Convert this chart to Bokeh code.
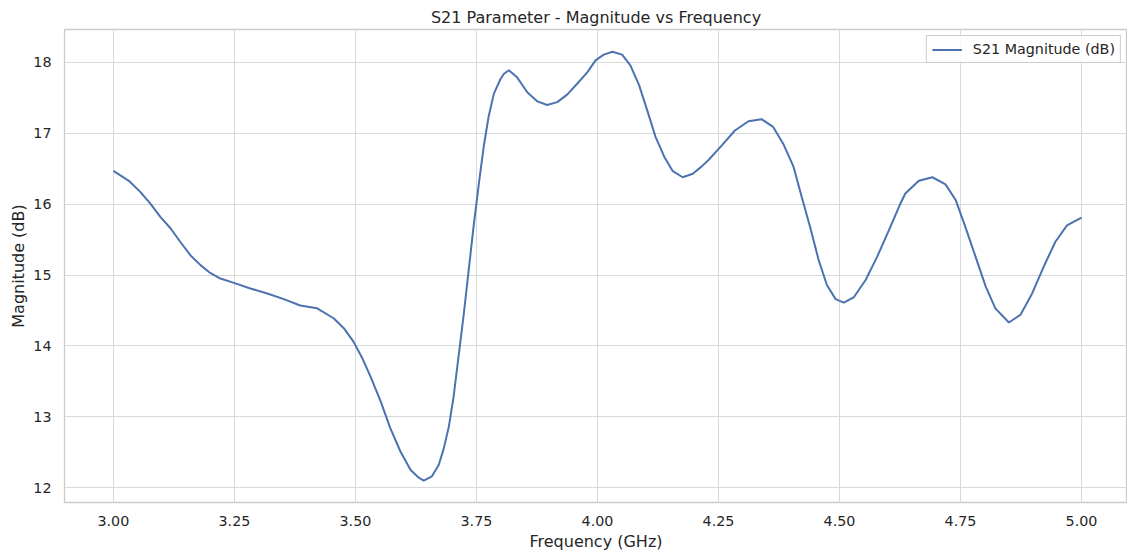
from bokeh.plotting import figure
from bokeh.models import Range1d, FixedTicker, NumeralTickFormatter, Legend, LegendItem
from bokeh.embed import file_html
from bokeh.resources import INLINE

freq_ghz = [3.000, 3.032, 3.056, 3.076, 3.097, 3.118, 3.138, 3.159, 3.180, 3.200,
            3.221, 3.249, 3.283, 3.318, 3.352, 3.386, 3.421, 3.455, 3.476, 3.496,
            3.514, 3.531, 3.552, 3.572, 3.593, 3.614, 3.631, 3.641, 3.658, 3.672,
            3.682, 3.693, 3.703, 3.713, 3.724, 3.734, 3.744, 3.755, 3.765, 3.775,
            3.786, 3.800, 3.807, 3.817, 3.834, 3.855, 3.876, 3.896, 3.917, 3.938,
            3.958, 3.979, 3.996, 4.013, 4.031, 4.051, 4.068, 4.086, 4.103, 4.120,
            4.138, 4.155, 4.176, 4.197, 4.215, 4.229, 4.257, 4.284, 4.312, 4.339,
            4.363, 4.384, 4.405, 4.422, 4.440, 4.457, 4.474, 4.492, 4.509, 4.530,
            4.554, 4.578, 4.602, 4.626, 4.636, 4.664, 4.692, 4.719, 4.740, 4.760,
            4.781, 4.802, 4.822, 4.850, 4.874, 4.898, 4.922, 4.946, 4.970, 5.000]
s21_db = [16.47, 16.33, 16.17, 16.01, 15.82, 15.66, 15.47, 15.28, 15.14, 15.03,
          14.95, 14.89, 14.81, 14.74, 14.66, 14.57, 14.53, 14.39, 14.25, 14.06,
          13.83, 13.57, 13.22, 12.84, 12.51, 12.25, 12.14, 12.10, 12.16, 12.32,
          12.54, 12.86, 13.29, 13.85, 14.46, 15.07, 15.68, 16.29, 16.81, 17.23,
          17.56, 17.77, 17.84, 17.89, 17.79, 17.58, 17.45, 17.40, 17.44, 17.55,
          17.70, 17.86, 18.03, 18.11, 18.15, 18.11, 17.96, 17.68, 17.32, 16.95,
          16.67, 16.47, 16.38, 16.43, 16.53, 16.62, 16.83, 17.04, 17.17, 17.20,
          17.09, 16.85, 16.53, 16.10, 15.66, 15.21, 14.86, 14.66, 14.61, 14.69,
          14.93, 15.26, 15.63, 16.01, 16.15, 16.33, 16.38, 16.28, 16.06, 15.68,
          15.26, 14.84, 14.53, 14.33, 14.44, 14.74, 15.12, 15.47, 15.70, 15.81]
x_ticks = [3.0, 3.25, 3.5, 3.75, 4.0, 4.25, 4.5, 4.75, 5.0]
y_ticks = [12, 13, 14, 15, 16, 17, 18]

FONT = "DejaVu Sans"
TXT = "#262626"
GRID = "#d9d9d9"
EDGE = "#cccccc"

p = figure(width=1127, height=553, output_backend="svg", toolbar_location=None,
           x_range=Range1d(2.899, 5.095), y_range=Range1d(11.79, 18.465),
           min_border_left=64, min_border_right=0, min_border_top=29, min_border_bottom=50,
           title="S21 Parameter - Magnitude vs Frequency")

p.title.text_font = FONT
p.title.text_font_size = "16px"
p.title.text_font_style = "normal"
p.title.text_color = TXT
p.title.align = "center"
p.title.standoff = 5

p.outline_line_color = EDGE
p.outline_line_width = 1.3
p.background_fill_color = "white"
p.border_fill_color = "white"

for ax in (p.xaxis[0], p.yaxis[0]):
    ax.axis_line_color = None
    ax.major_tick_line_color = None
    ax.minor_tick_line_color = None
    ax.major_tick_out = 0
    ax.major_tick_in = 0
    ax.minor_tick_out = 0
    ax.major_label_text_font = FONT
    ax.major_label_text_font_size = "14.3px"
    ax.major_label_text_color = TXT
    ax.axis_label_text_font = FONT
    ax.axis_label_text_font_size = "16px"
    ax.axis_label_text_font_style = "normal"
    ax.axis_label_text_color = TXT

p.xaxis.axis_label = "Frequency (GHz)"
p.yaxis.axis_label = "Magnitude (dB)"
p.xaxis.ticker = FixedTicker(ticks=x_ticks)
p.yaxis.ticker = FixedTicker(ticks=y_ticks)
p.xaxis.formatter = NumeralTickFormatter(format="0.00")
p.xaxis.major_label_standoff = 13
p.xaxis.axis_label_standoff = 3
p.yaxis.major_label_standoff = 13
p.yaxis.axis_label_standoff = 2

p.xgrid.grid_line_color = GRID
p.ygrid.grid_line_color = GRID
p.xgrid.grid_line_width = 1
p.ygrid.grid_line_width = 1

r = p.line(freq_ghz, s21_db, line_color="#4C72B0", line_width=2)

legend = Legend(items=[LegendItem(label="S21 Magnitude (dB)", renderers=[r])],
                location="top_right")
legend.label_text_font = FONT
legend.label_text_font_size = "14.3px"
legend.label_text_color = TXT
legend.border_line_color = EDGE
legend.border_line_alpha = 1
legend.background_fill_alpha = 0.8
legend.margin = 6
legend.padding = 5
legend.label_height = 15
legend.glyph_height = 15
legend.glyph_width = 30
legend.label_standoff = 11
p.add_layout(legend)

open("out.html", "w").write(file_html(p, INLINE))
